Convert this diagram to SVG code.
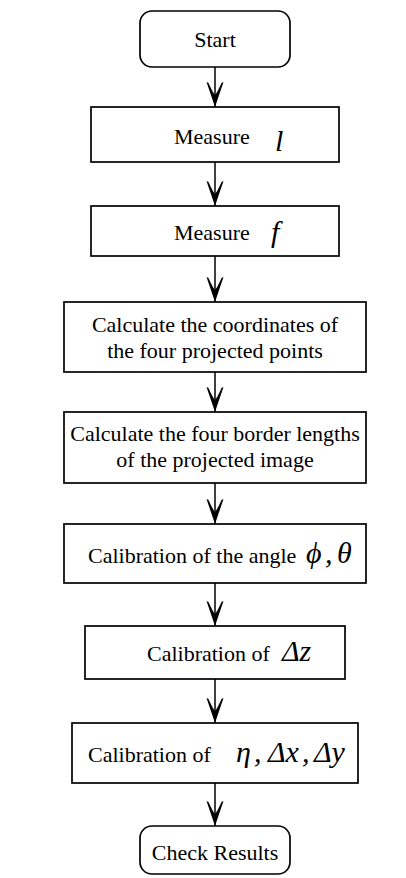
<svg xmlns="http://www.w3.org/2000/svg" width="406" height="878" viewBox="0 0 406 878">
<style>
.box{fill:#fff;stroke:#000;stroke-width:1.7}
.t{font-family:"Liberation Serif","Times New Roman","DejaVu Serif",serif;font-size:22px;fill:#000}
.c{text-anchor:middle}
.m{font-style:italic;font-size:30px}
.conn{stroke:#000;stroke-width:1.5;fill:none}
</style>
<defs>
<marker id="ah" viewBox="-27 -10 28 20" markerWidth="28" markerHeight="20" refX="0" refY="0" orient="auto" markerUnits="userSpaceOnUse">
<path d="M0,0 L-25,-8.5 L-24,-6.5 Q-15,-2.5 -12,0 Q-15,2.5 -24,6.5 L-25,8.5 Z" fill="#000"/>
</marker>
</defs>
<g id="connectors">
<line class="conn" x1="215" y1="67" x2="215" y2="107" marker-end="url(#ah)"/>
<line class="conn" x1="215" y1="162" x2="215" y2="206" marker-end="url(#ah)"/>
<line class="conn" x1="215" y1="256" x2="215" y2="302" marker-end="url(#ah)"/>
<line class="conn" x1="215" y1="372" x2="215" y2="412" marker-end="url(#ah)"/>
<line class="conn" x1="215" y1="483" x2="215" y2="524" marker-end="url(#ah)"/>
<line class="conn" x1="215" y1="583" x2="215" y2="626" marker-end="url(#ah)"/>
<line class="conn" x1="215" y1="679" x2="215" y2="723" marker-end="url(#ah)"/>
<line class="conn" x1="215" y1="783" x2="215" y2="826" marker-end="url(#ah)"/>
</g>
<g id="start">
<rect class="box" x="140" y="11" width="150" height="56" rx="12"/>
<text class="t c" x="215" y="47">Start</text>
</g>
<g id="measure_l">
<rect class="box" x="91" y="107" width="248" height="55"/>
<text class="t" x="174" y="144">Measure <tspan class="m" x="275" y="151" font-size="32">l</tspan></text>
</g>
<g id="measure_f">
<rect class="box" x="91" y="206" width="248" height="50"/>
<text class="t" x="174" y="240">Measure <tspan class="m" x="271" y="242" font-size="29">f</tspan></text>
</g>
<g id="calc_coords">
<rect class="box" x="64" y="302" width="302" height="70"/>
<text class="t c" x="215" y="332">Calculate the coordinates of</text>
<text class="t c" x="215" y="358">the four projected points</text>
</g>
<g id="calc_border">
<rect class="box" x="64" y="412" width="302" height="71"/>
<text class="t c" x="215" y="441">Calculate the four border lengths</text>
<text class="t c" x="215" y="467">of the projected image</text>
</g>
<g id="cal_angle">
<rect class="box" x="64" y="524" width="302" height="59"/>
<text class="t" x="88" y="563">Calibration of the angle <tspan class="m" x="306">ϕ</tspan><tspan class="m" x="325">,</tspan><tspan class="m" x="337">θ</tspan></text>
</g>
<g id="cal_dz">
<rect class="box" x="85" y="626" width="260" height="53"/>
<text class="t" x="147" y="661">Calibration of <tspan class="m" x="282" font-size="28">Δz</tspan></text>
</g>
<g id="cal_eta">
<rect class="box" x="72" y="723" width="286" height="60"/>
<text class="t" x="88" y="762">Calibration of <tspan class="m" x="236">η</tspan><tspan class="m" x="254">,</tspan><tspan class="m" x="268">Δx</tspan><tspan class="m" x="302">,</tspan><tspan class="m" x="314">Δy</tspan></text>
</g>
<g id="check">
<rect class="box" x="140" y="826" width="150" height="48" rx="12"/>
<text class="t c" x="215" y="860">Check Results</text>
</g>
</svg>
